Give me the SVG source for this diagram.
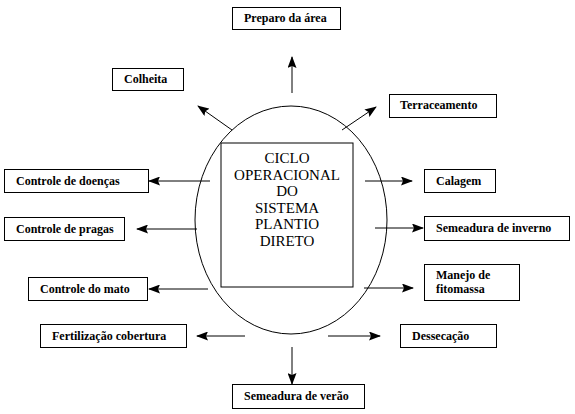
<svg xmlns="http://www.w3.org/2000/svg" width="575" height="414" viewBox="0 0 575 414">
<defs>
<marker id="ah" markerWidth="12" markerHeight="9" refX="11" refY="4.5" orient="auto" markerUnits="userSpaceOnUse">
<path d="M0,0 L12,4.5 L0,9 L2,4.5 z" fill="#000"/>
</marker>
</defs>
<rect width="575" height="414" fill="#fff"/>
<g id="center">
<ellipse cx="291" cy="220" rx="96" ry="114" fill="none" stroke="#000" stroke-width="1"/>
<rect x="221" y="143" width="132" height="144" fill="#fff" stroke="#000"/>
<g font-family="Liberation Serif, Times New Roman, serif" font-size="15" text-anchor="middle" fill="#000">
<text x="287" y="163">CICLO</text>
<text x="287" y="179.5">OPERACIONAL</text>
<text x="287" y="196">DO</text>
<text x="287" y="212.5">SISTEMA</text>
<text x="287" y="229">PLANTIO</text>
<text x="287" y="245.5">DIRETO</text>
</g>
</g>
<g id="connectors" stroke="#000" stroke-width="1" fill="none" marker-end="url(#ah)">
<line x1="292" y1="93" x2="292" y2="57"/>
<line x1="232" y1="130" x2="198" y2="106"/>
<line x1="342" y1="130" x2="376" y2="107"/>
<line x1="210" y1="181" x2="149" y2="181"/>
<line x1="365" y1="181" x2="412" y2="181"/>
<line x1="197" y1="229" x2="137" y2="229"/>
<line x1="375" y1="228" x2="423" y2="228"/>
<line x1="208" y1="289" x2="149" y2="289"/>
<line x1="364" y1="288" x2="413" y2="288"/>
<line x1="245" y1="336" x2="197" y2="336"/>
<line x1="328" y1="336" x2="380" y2="336"/>
<line x1="292" y1="347" x2="292" y2="384"/>
</g>
<g font-family="Liberation Serif, Times New Roman, serif" font-size="12" font-weight="bold">
<g id="preparo"><rect fill="#fff" stroke="#000" x="232.5" y="7.5" width="108" height="22"/><text x="244" y="22">Preparo da área</text></g>
<g id="colheita"><rect fill="#fff" stroke="#000" x="112.5" y="68.5" width="71" height="22"/><text x="124" y="83">Colheita</text></g>
<g id="terraceamento"><rect fill="#fff" stroke="#000" x="389.5" y="94.5" width="107" height="23"/><text x="400" y="109">Terraceamento</text></g>
<g id="doencas"><rect fill="#fff" stroke="#000" x="4.5" y="169.5" width="144" height="23"/><text x="16" y="185">Controle de doenças</text></g>
<g id="calagem"><rect fill="#fff" stroke="#000" x="424.5" y="169.5" width="71" height="23"/><text x="436" y="185">Calagem</text></g>
<g id="pragas"><rect fill="#fff" stroke="#000" x="4.5" y="217.5" width="120" height="23"/><text x="16" y="233">Controle de pragas</text></g>
<g id="inverno"><rect fill="#fff" stroke="#000" x="424.5" y="216.5" width="145" height="24"/><text x="436" y="232">Semeadura de inverno</text></g>
<g id="mato"><rect fill="#fff" stroke="#000" x="28.5" y="277.5" width="119" height="23"/><text x="40" y="293">Controle do mato</text></g>
<g id="fitomassa"><rect fill="#fff" stroke="#000" x="424.5" y="264.5" width="95" height="36"/><text x="436" y="279">Manejo de</text><text x="436" y="293">fitomassa</text></g>
<g id="fertilizacao"><rect fill="#fff" stroke="#000" x="40.5" y="324.5" width="146" height="23"/><text x="52" y="340">Fertilização cobertura</text></g>
<g id="dessecacao"><rect fill="#fff" stroke="#000" x="400.5" y="324.5" width="96" height="23"/><text x="412" y="340">Dessecação</text></g>
<g id="verao"><rect fill="#fff" stroke="#000" x="232.5" y="384.5" width="132" height="24"/><text x="244" y="400">Semeadura de verão</text></g>
</g>
</svg>
